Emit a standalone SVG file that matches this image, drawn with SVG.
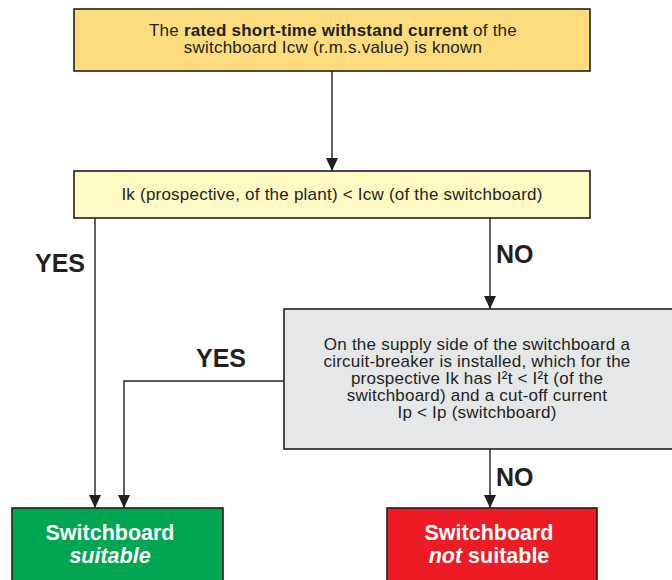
<svg xmlns="http://www.w3.org/2000/svg" width="672" height="580" viewBox="0 0 672 580">
<defs>
<style>
.box{stroke:#231F20;stroke-width:1.6}
.t{font-family:"Liberation Sans",Arial,sans-serif;font-size:17px;letter-spacing:0.22px;fill:#231F20;text-anchor:middle}
.lbl{font-family:"Liberation Sans",Arial,sans-serif;font-size:25px;font-weight:bold;fill:#231F20}
.w{font-family:"Liberation Sans",Arial,sans-serif;font-size:21.5px;font-weight:bold;fill:#FFFFFF;text-anchor:middle}
.ln{fill:none;stroke:#231F20;stroke-width:1.4}
</style>
<marker id="a" markerUnits="userSpaceOnUse" markerWidth="13" markerHeight="12" viewBox="0 0 13 12" refX="13" refY="6" orient="auto">
<path d="M0,0 L13,6 L0,12 Z" fill="#231F20"/>
</marker>
</defs>
<rect width="672" height="580" fill="#FFFFFF"/>
<g id="connectors">
<line class="ln" x1="332" y1="71" x2="332" y2="171" marker-end="url(#a)"/>
<line class="ln" x1="95" y1="218" x2="95" y2="508" marker-end="url(#a)"/>
<line class="ln" x1="490" y1="218" x2="490" y2="309" marker-end="url(#a)"/>
<polyline class="ln" points="284,381 124,381 124,508" marker-end="url(#a)"/>
<line class="ln" x1="490" y1="449" x2="490" y2="508" marker-end="url(#a)"/>
<text class="lbl" x="85" y="272" text-anchor="end">YES</text>
<text class="lbl" x="496" y="263">NO</text>
<text class="lbl" x="246" y="367" text-anchor="end">YES</text>
<text class="lbl" x="496" y="486">NO</text>
</g>
<g id="node-known">
<rect class="box" x="74" y="9" width="516" height="62" fill="#FDDC7E"/>
<text class="t"><tspan x="333" y="36">The <tspan font-weight="bold">rated short-time withstand current</tspan> of the</tspan><tspan x="333" y="53">switchboard Icw (r.m.s.value) is known</tspan></text>
</g>
<g id="node-compare">
<rect class="box" x="74" y="171" width="516" height="47" fill="#FFF9C4"/>
<text class="t" x="332" y="200">Ik (prospective, of the plant) &lt; Icw (of the switchboard)</text>
</g>
<g id="node-breaker">
<rect class="box" x="284" y="309" width="400" height="140" fill="#E6E7E8"/>
<text class="t"><tspan x="477" y="350">On the supply side of the switchboard a</tspan><tspan x="477" y="367">circuit-breaker is installed, which for the</tspan><tspan x="477" y="384">prospective Ik has I²t &lt; I²t (of the</tspan><tspan x="477" y="401">switchboard) and a cut-off current</tspan><tspan x="477" y="418">Ip &lt; Ip (switchboard)</tspan></text>
</g>
<g id="node-suitable">
<rect class="box" x="12" y="508" width="211" height="80" fill="#00A651"/>
<text class="w"><tspan x="110" y="540">Switchboard</tspan><tspan x="110" y="563" font-style="italic">suitable</tspan></text>
</g>
<g id="node-not-suitable">
<rect class="box" x="387" y="508" width="210" height="80" fill="#ED1C24"/>
<text class="w"><tspan x="489" y="540">Switchboard</tspan><tspan x="489" y="563"><tspan font-style="italic">not</tspan> suitable</tspan></text>
</g>
</svg>
